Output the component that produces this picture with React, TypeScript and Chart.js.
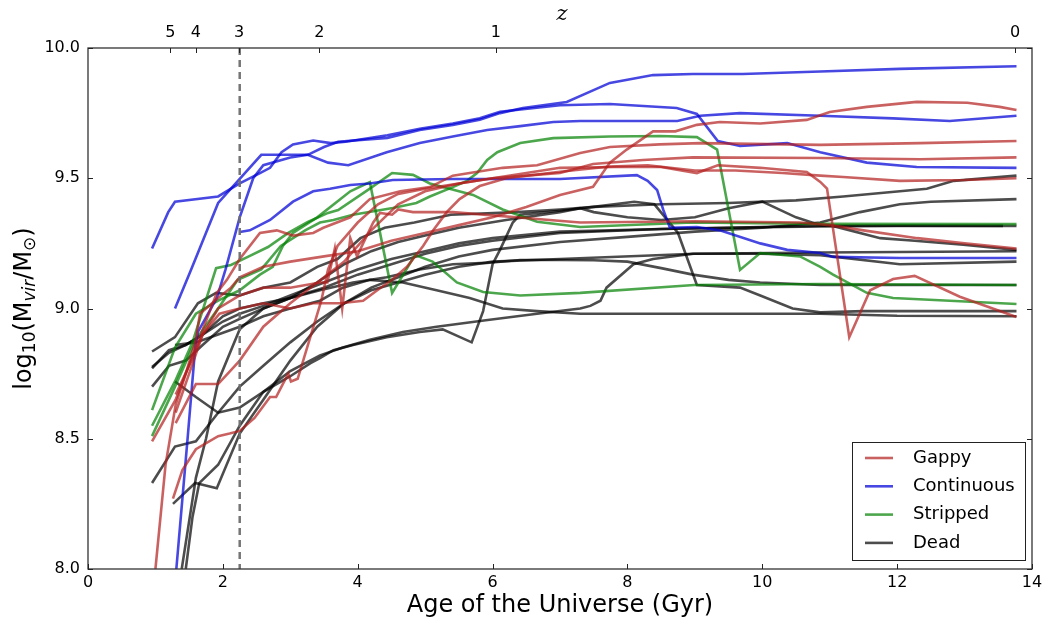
import { useEffect, useRef } from 'react';
import { Chart, registerables } from 'chart.js';

Chart.register(...registerables);

type Track = [number, number][];

// ---- Gappy galaxies: [age (Gyr), log10 Mvir] ----
const gappyA: Track = [[1.0,8.0],[1.15,8.4],[1.3,8.63],[1.45,8.75],[1.6,8.88],[1.66,8.98],[1.93,9.04],[2.12,9.08],[2.25,9.12],[2.6,9.16],[3.0,9.18],[3.5,9.2],[4.0,9.22],[4.5,9.26],[5.0,9.29],[5.5,9.32],[6.0,9.35],[6.5,9.39],[7.0,9.436],[7.49,9.467],[7.74,9.56],[7.99,9.61],[8.38,9.68],[8.71,9.68],[9.03,9.705],[9.37,9.716],[9.97,9.71],[10.66,9.724],[10.86,9.742],[11.0,9.754],[11.55,9.774],[12.29,9.793],[13.04,9.79],[13.52,9.774],[13.77,9.762]];
const gappyB: Track = [[0.95,8.49],[1.3,8.65],[1.6,8.85],[1.91,9.06],[2.06,9.11],[2.25,9.19],[2.55,9.29],[2.8,9.3],[3.04,9.28],[3.34,9.29],[3.49,9.31],[3.89,9.35],[4.18,9.42],[4.63,9.45],[5.07,9.466],[5.41,9.51],[5.66,9.52],[6.15,9.54],[6.66,9.55],[7.3,9.597],[7.74,9.62],[8.48,9.63],[9.08,9.635],[10.86,9.628],[12.34,9.635],[13.77,9.643]];
const gappyC: Track = [[1.26,8.27],[1.4,8.38],[1.6,8.46],[1.93,8.51],[2.1,8.52],[2.25,8.53],[2.47,8.58],[2.7,8.66],[2.79,8.66],[2.97,8.75],[3.01,8.72],[3.11,8.73],[3.46,9.03],[3.56,9.15],[3.7,9.24],[4.0,9.33],[4.3,9.4],[4.6,9.44],[5.0,9.46],[5.5,9.48],[6.0,9.5],[6.5,9.51],[7.0,9.52],[7.49,9.555],[8.23,9.57],[8.97,9.58],[10.86,9.578],[12.34,9.573],[13.77,9.58]];
const gappyD: Track = [[1.3,8.67],[1.5,8.78],[1.7,8.9],[1.95,8.98],[2.25,9.0],[2.6,9.02],[3.0,9.0],[3.34,9.02],[3.74,9.02],[4.08,9.03],[4.29,9.07],[4.51,9.11],[4.73,9.16],[4.97,9.24],[5.12,9.3],[5.32,9.37],[5.51,9.42],[5.81,9.47],[6.2,9.5],[7.0,9.525],[7.74,9.545],[8.3,9.55],[9.0,9.53],[9.6,9.53],[10.3,9.52],[10.86,9.51],[11.2,9.505],[12.04,9.49],[13.0,9.493],[13.77,9.5]];
const gappyE: Track = [[1.3,8.56],[1.6,8.71],[1.93,8.71],[2.25,8.8],[2.6,8.93],[3.0,9.02],[3.4,9.1],[3.8,9.18],[4.2,9.3],[4.6,9.4],[5.0,9.45],[5.5,9.48],[6.0,9.5],[6.5,9.52],[7.0,9.54],[7.8,9.543],[8.5,9.543],[9.03,9.52],[9.34,9.55],[9.97,9.54],[10.66,9.524],[10.86,9.486],[10.96,9.46],[11.29,8.89],[11.6,9.07],[11.94,9.113],[12.26,9.125],[12.93,9.045],[13.77,8.967]];
const gappyF: Track = [[1.3,8.6],[1.5,8.75],[1.7,8.9],[1.93,9.0],[2.25,9.05],[2.6,9.08],[3.0,9.08],[3.44,9.1],[3.55,9.1],[3.66,9.23],[3.77,9.0],[3.89,9.27],[3.99,9.2],[4.08,9.25],[4.23,9.33],[4.33,9.367],[4.51,9.36],[4.6,9.38],[4.82,9.37],[5.41,9.37],[7.3,9.33],[9.0,9.335],[10.56,9.33],[11.0,9.32],[11.5,9.3],[12.3,9.27],[13.0,9.25],[13.77,9.23]];

// ---- Continuous galaxies ----
const contA: Track = [[0.95,9.23],[1.19,9.37],[1.29,9.41],[1.93,9.43],[2.25,9.48],[2.55,9.52],[2.7,9.54],[2.87,9.6],[3.04,9.63],[3.34,9.645],[3.6,9.635],[3.82,9.64],[4.44,9.665],[4.92,9.69],[5.41,9.71],[5.81,9.73],[6.11,9.755],[6.45,9.765],[7.0,9.78],[7.74,9.785],[8.73,9.77],[9.03,9.747],[9.34,9.643],[9.67,9.624],[10.37,9.635],[10.86,9.6],[11.55,9.56],[12.29,9.543],[13.77,9.54]];
const contB: Track = [[1.29,9.0],[1.53,9.15],[1.93,9.405],[2.57,9.59],[3.26,9.59],[3.56,9.56],[3.86,9.55],[4.43,9.6],[4.92,9.635],[5.41,9.66],[5.92,9.685],[6.41,9.7],[6.9,9.716],[7.3,9.72],[8.74,9.72],[9.08,9.74],[9.67,9.75],[10.86,9.74],[11.94,9.73],[12.78,9.72],[13.77,9.74]];
const contC: Track = [[1.31,8.0],[1.48,8.51],[1.59,8.85],[1.63,8.91],[1.91,9.04],[2.04,9.15],[2.25,9.35],[2.45,9.5],[2.6,9.55],[3.0,9.58],[3.26,9.59],[3.5,9.62],[3.71,9.64],[4.44,9.655],[4.92,9.685],[5.41,9.705],[5.81,9.725],[6.11,9.75],[6.45,9.77],[7.1,9.793],[7.74,9.866],[8.38,9.896],[8.97,9.9],[9.71,9.9],[10.86,9.91],[12.04,9.92],[13.77,9.93]];
const contD: Track = [[2.25,9.294],[2.4,9.3],[2.7,9.34],[3.04,9.41],[3.34,9.45],[3.59,9.46],[3.89,9.474],[4.18,9.48],[4.52,9.493],[5.41,9.497],[7.0,9.497],[8.14,9.512],[8.3,9.49],[8.44,9.455],[8.53,9.38],[8.63,9.31],[9.03,9.313],[9.37,9.3],[9.97,9.25],[10.37,9.225],[10.86,9.213],[11.05,9.198],[12.04,9.194],[13.77,9.194]];

// ---- Stripped galaxies ----
const stripA: Track = [[0.95,8.61],[1.29,8.85],[1.6,8.98],[1.93,9.03],[2.25,9.07],[2.55,9.13],[2.74,9.16],[2.89,9.24],[3.04,9.29],[3.4,9.35],[3.89,9.45],[4.18,9.485],[4.51,9.06],[4.85,9.205],[5.11,9.18],[5.47,9.1],[5.86,9.063],[6.41,9.05],[7.3,9.06],[8.99,9.09],[10.86,9.094],[13.77,9.09]];
const stripB: Track = [[0.95,8.55],[1.29,8.72],[1.55,8.87],[1.66,8.96],[1.9,9.155],[2.12,9.167],[2.37,9.198],[2.67,9.236],[2.97,9.29],[3.26,9.332],[3.56,9.367],[3.71,9.378],[4.18,9.46],[4.51,9.52],[4.82,9.513],[5.07,9.48],[5.71,9.436],[6.15,9.38],[6.66,9.333],[7.3,9.313],[8.97,9.33],[10.86,9.325],[13.77,9.324]];
const stripC: Track = [[0.95,8.51],[1.29,8.7],[1.6,8.88],[1.93,9.0],[2.22,9.11],[2.57,9.15],[2.86,9.24],[3.22,9.3],[3.44,9.33],[3.64,9.34],[3.93,9.36],[4.52,9.386],[4.87,9.405],[5.07,9.43],[5.41,9.466],[5.62,9.49],[5.77,9.52],[5.92,9.57],[6.07,9.6],[6.41,9.635],[6.9,9.654],[7.74,9.66],[8.48,9.662],[9.03,9.658],[9.33,9.61],[9.67,9.148],[9.97,9.213],[10.56,9.2],[10.86,9.16],[11.05,9.13],[11.55,9.06],[11.94,9.04],[12.78,9.03],[13.77,9.017]];

// ---- Dead galaxies ----
const deadA: Track = [[0.95,8.835],[1.29,8.89],[1.63,9.02],[1.9,9.06],[2.25,9.05],[2.6,9.08],[3.0,9.1],[3.4,9.16],[3.7,9.19],[4.04,9.27],[4.4,9.31],[4.84,9.33],[5.38,9.36],[6.37,9.37],[7.0,9.38],[7.5,9.39],[8.5,9.4],[9.5,9.405],[10.5,9.415],[11.2,9.43],[12.44,9.46],[12.84,9.49],[13.77,9.51]];
const deadB: Track = [[0.95,8.77],[1.2,8.84],[1.45,8.86],[1.7,8.9],[2.0,8.97],[2.25,9.0],[2.6,9.02],[3.0,9.04],[3.4,9.1],[3.8,9.17],[4.2,9.22],[4.6,9.255],[5.0,9.28],[5.5,9.31],[6.2,9.34],[7.0,9.37],[7.3,9.385],[7.5,9.37],[8.0,9.35],[8.5,9.34],[9.0,9.35],[9.5,9.385],[10.0,9.41],[10.5,9.35],[10.86,9.32],[11.0,9.32],[11.75,9.27],[12.26,9.26],[12.98,9.245],[13.77,9.225]];
const deadC: Track = [[0.95,8.7],[1.2,8.78],[1.45,8.8],[1.7,8.86],[2.0,8.93],[2.25,8.96],[2.6,9.0],[3.0,9.04],[3.5,9.08],[4.0,9.13],[4.5,9.17],[5.0,9.21],[5.5,9.24],[6.0,9.26],[7.0,9.29],[8.5,9.305],[9.5,9.31],[10.86,9.315],[12.0,9.317],[13.57,9.317]];
const deadD: Track = [[0.95,8.33],[1.29,8.47],[1.6,8.49],[1.93,8.6],[2.25,8.7],[2.6,8.78],[3.0,8.87],[3.4,8.95],[3.8,9.02],[4.2,9.08],[4.6,9.12],[5.0,9.16],[5.5,9.2],[6.0,9.225],[7.0,9.255],[8.0,9.275],[9.0,9.295],[10.0,9.31],[10.86,9.33],[11.15,9.35],[11.45,9.37],[12.04,9.4],[12.5,9.41],[13.77,9.42]];
const deadE: Track = [[1.26,8.25],[1.59,8.33],[1.91,8.31],[2.25,8.52],[2.6,8.65],[3.0,8.8],[3.4,8.93],[3.8,9.02],[4.2,9.07],[4.6,9.1],[5.0,9.13],[5.5,9.16],[6.0,9.18],[7.0,9.19],[9.0,9.21],[10.86,9.215],[13.77,9.22]];
const deadF: Track = [[1.39,8.0],[1.6,8.35],[1.75,8.5],[1.93,8.72],[2.25,8.92],[2.6,9.0],[3.0,9.04],[3.44,9.07],[3.93,9.1],[4.43,9.12],[4.92,9.15],[5.41,9.17],[5.91,9.175],[6.41,9.186],[7.0,9.186],[7.5,9.185],[8.0,9.18],[8.5,9.155],[8.97,9.13],[9.5,9.11],[9.97,9.1],[10.86,9.09],[13.77,9.09]];
const deadG: Track = [[1.45,8.0],[1.55,8.2],[1.65,8.33],[1.93,8.4],[2.25,8.55],[2.6,8.68],[3.0,8.76],[3.44,8.82],[3.78,8.85],[4.18,8.88],[4.67,8.91],[5.17,8.93],[5.9,8.955],[6.66,8.98],[7.3,9.0],[7.45,9.01],[7.6,9.03],[7.69,9.08],[8.09,9.17],[8.38,9.19],[8.97,9.21],[9.97,9.21],[10.86,9.205],[12.04,9.17],[13.77,9.18]];
const deadH: Track = [[1.29,8.72],[1.6,8.66],[1.93,8.6],[2.25,8.62],[2.6,8.68],[3.0,8.74],[3.3,8.79],[3.44,8.81],[3.64,8.84],[3.93,8.86],[4.43,8.89],[4.92,8.91],[5.26,8.92],[5.69,8.87],[5.86,8.99],[6.0,9.17],[6.11,9.225],[6.3,9.33],[6.41,9.36],[6.6,9.365],[7.0,9.375],[7.5,9.39],[8.1,9.41],[8.4,9.4],[8.75,9.29],[9.03,9.09],[9.67,9.08],[9.97,9.05],[10.45,9.0],[10.86,8.985],[11.5,8.99],[13.77,8.99]];
const deadI: Track = [[1.29,8.86],[1.6,8.87],[1.93,8.9],[2.25,8.93],[2.6,8.97],[3.0,9.0],[3.44,9.03],[3.78,9.08],[4.18,9.11],[4.67,9.1],[5.17,9.07],[5.66,9.04],[6.15,9.0],[6.66,8.99],[7.3,8.98],[9.0,8.98],[10.86,8.98],[12.0,8.972],[13.77,8.97]];
const deadJ: Track = [[0.95,8.775],[1.2,8.83],[1.45,8.86],[1.7,8.9],[2.0,8.95],[2.25,8.98],[2.6,9.01],[3.0,9.05],[3.5,9.1],[4.0,9.15],[4.5,9.19],[5.0,9.22],[5.5,9.25],[6.0,9.27],[7.0,9.295],[8.5,9.305],[9.5,9.31],[10.86,9.318],[12.0,9.318],[13.77,9.317]];

const gappyTracks: Track[] = [gappyA, gappyB, gappyC, gappyD, gappyE, gappyF];
const continuousTracks: Track[] = [contA, contB, contC, contD];
const strippedTracks: Track[] = [stripA, stripB, stripC];
const deadTracks: Track[] = [deadA, deadB, deadC, deadD, deadE, deadF, deadG, deadH, deadI, deadJ];

// Top axis: redshift labels and the cosmic age (Gyr) they sit at
const zLabels = ['5', '4', '3', '2', '1', '0'];
const zAges = [1.22, 1.6, 2.24, 3.43, 6.05, 13.75];
const markerAge = 2.25;

const groups = [
  { label: 'Gappy', color: 'rgba(180,30,30,0.7)', tracks: gappyTracks },
  { label: 'Continuous', color: 'rgba(0,0,215,0.72)', tracks: continuousTracks },
  { label: 'Stripped', color: 'rgba(0,128,0,0.7)', tracks: strippedTracks },
  { label: 'Dead', color: 'rgba(0,0,0,0.7)', tracks: deadTracks },
];

const FONT = 'DejaVu Sans';

const decorations = {
  id: 'decorations',
  afterDatasetsDraw(chart: any) {
    const { ctx, chartArea: a, scales } = chart;
    const x = scales.x;
    const y = scales.y;
    const xt = scales.xTop;
    ctx.save();

    // z = 3 marker
    const mx = x.getPixelForValue(markerAge);
    ctx.strokeStyle = 'rgba(110,110,110,0.95)';
    ctx.lineWidth = 2.5;
    ctx.setLineDash([7, 5]);
    ctx.beginPath();
    ctx.moveTo(mx, a.top);
    ctx.lineTo(mx, a.bottom);
    ctx.stroke();
    ctx.setLineDash([]);

    // frame
    ctx.strokeStyle = '#333';
    ctx.lineWidth = 1.3;
    ctx.strokeRect(a.left, a.top, a.right - a.left, a.bottom - a.top);

    // inward ticks
    const L = 5;
    ctx.lineWidth = 1;
    ctx.strokeStyle = '#222';
    ctx.beginPath();
    x.ticks.forEach((t: any) => {
      const px = Math.round(x.getPixelForValue(t.value)) + 0.5;
      ctx.moveTo(px, a.bottom);
      ctx.lineTo(px, a.bottom - L);
    });
    xt.ticks.forEach((t: any) => {
      const px = Math.round(xt.getPixelForValue(t.value)) + 0.5;
      ctx.moveTo(px, a.top);
      ctx.lineTo(px, a.top + L);
    });
    y.ticks.forEach((t: any) => {
      const py = Math.round(y.getPixelForValue(t.value)) + 0.5;
      ctx.moveTo(a.left, py);
      ctx.lineTo(a.left + L, py);
      ctx.moveTo(a.right, py);
      ctx.lineTo(a.right - L, py);
    });
    ctx.stroke();
    ctx.restore();
  },
  afterDraw(chart: any) {
    const { ctx, chartArea: a } = chart;
    ctx.save();
    ctx.fillStyle = '#000';

    // x-axis title
    ctx.font = `24px ${FONT}`;
    ctx.textAlign = 'center';
    ctx.textBaseline = 'middle';
    ctx.fillText('Age of the Universe (Gyr)', (a.left + a.right) / 2, a.bottom + 37);

    // top axis title
    ctx.font = `italic 21px "DejaVu Serif"`;
    ctx.fillText('z', (a.left + a.right) / 2 + 2, a.top - 33);

    // y-axis title with sub-scripts
    const parts: [string, string, number][] = [
      ['log', `24px ${FONT}`, 0],
      ['10', `17px ${FONT}`, 6],
      ['(M', `24px ${FONT}`, 0],
      ['vir', `italic 17px ${FONT}`, 6],
      ['/M', `24px ${FONT}`, 0],
      ['\u2299', `17px ${FONT}`, 6],
      [')', `24px ${FONT}`, 0],
    ];
    let total = 0;
    const widths = parts.map(([t, f]) => {
      ctx.font = f;
      const w = ctx.measureText(t).width;
      total += w;
      return w;
    });
    ctx.translate(25, (a.top + a.bottom) / 2);
    ctx.rotate(-Math.PI / 2);
    ctx.textAlign = 'left';
    let cx = -total / 2;
    parts.forEach(([t, f, dy], i) => {
      ctx.font = f;
      ctx.fillText(t, cx, dy);
      cx += widths[i];
    });
    ctx.restore();

    // legend, lower right
    ctx.save();
    const bw = 173;
    const bh = 118;
    const bx = a.right - 7 - bw;
    const by = a.bottom - 9 - bh;
    ctx.fillStyle = '#fff';
    ctx.fillRect(bx, by, bw, bh);
    ctx.strokeStyle = '#222';
    ctx.lineWidth = 1;
    ctx.strokeRect(bx + 0.5, by + 0.5, bw, bh);
    ctx.font = `18px ${FONT}`;
    ctx.textBaseline = 'middle';
    ctx.textAlign = 'left';
    groups.forEach((g, i) => {
      const ry = by + 16 + i * 28.3;
      ctx.strokeStyle = g.color;
      ctx.lineWidth = 2.6;
      ctx.beginPath();
      ctx.moveTo(bx + 13, ry);
      ctx.lineTo(bx + 41, ry);
      ctx.stroke();
      ctx.fillStyle = '#000';
      ctx.fillText(g.label, bx + 61, ry);
    });
    ctx.restore();
  },
};

export default function App() {
  const canvasRef = useRef<HTMLCanvasElement | null>(null);

  useEffect(() => {
    const canvas = canvasRef.current;
    if (!canvas) return;

    const datasets: any[] = [];
    groups.forEach((g) => {
      g.tracks.forEach((tr) => {
        datasets.push({
          label: g.label,
          data: tr.map(([t, m]) => ({ x: t, y: m })),
          borderColor: g.color,
          borderWidth: 2.6,
          pointRadius: 0,
          fill: false,
          tension: 0,
        });
      });
    });

    const tickFont = { family: FONT, size: 16 };

    const chart = new Chart(canvas, {
      type: 'line',
      data: { datasets },
      plugins: [decorations],
      options: {
        responsive: false,
        animation: false,
        devicePixelRatio: 1,
        layout: { padding: { left: 0, right: 16, top: 0, bottom: 0 } },
        plugins: { legend: { display: false }, tooltip: { enabled: false } },
        scales: {
          x: {
            type: 'linear',
            position: 'bottom',
            min: 0,
            max: 14,
            afterFit: (s: any) => { s.height = 50; },
            ticks: { stepSize: 2, font: tickFont, color: '#000', padding: 4, maxRotation: 0 },
            grid: { display: false, drawTicks: false },
            border: { display: false },
          },
          xTop: {
            type: 'linear',
            position: 'top',
            min: 0,
            max: 14,
            afterFit: (s: any) => { s.height = 48; },
            afterBuildTicks: (s: any) => { s.ticks = zAges.map((v) => ({ value: v })); },
            ticks: {
              autoSkip: false,
              maxRotation: 0,
              font: tickFont,
              color: '#000',
              padding: 6,
              callback: (_v: any, i: number) => zLabels[i],
            },
            grid: { display: false, drawTicks: false },
            border: { display: false },
          },
          y: {
            type: 'linear',
            min: 8,
            max: 10,
            afterFit: (s: any) => { s.width = 88; },
            ticks: {
              stepSize: 0.5,
              font: tickFont,
              color: '#000',
              padding: 8,
              callback: (v: any) => Number(v).toFixed(1),
            },
            grid: { display: false, drawTicks: false },
            border: { display: false },
          },
        },
      } as any,
    });

    return () => chart.destroy();
  }, []);

  return (
    <div style={{ position: 'fixed', left: 0, top: 0, width: 1048, height: 619, background: '#fff' }}>
      <canvas ref={canvasRef} width={1048} height={619} style={{ display: 'block' }} />
    </div>
  );
}
